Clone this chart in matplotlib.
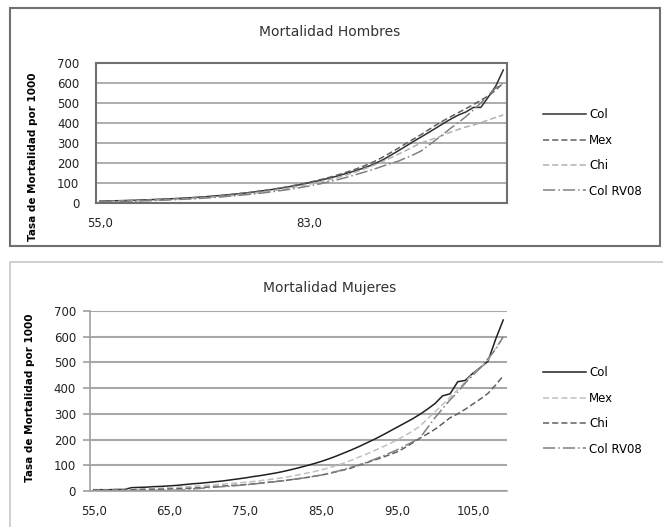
import numpy as np
import matplotlib.pyplot as plt
from matplotlib.patches import Rectangle

# Edades 55..109 (categorias del eje x)
edades = list(range(55, 110))

# Hombres: tasa de mortalidad por 1000
h_col = [9, 10, 11, 12, 13, 14, 15.5, 17, 18.5, 20,
         22, 24, 26, 28.5, 31, 34, 37, 40.5, 44, 48,
         52, 57, 62, 67, 73, 79, 86, 93, 101, 109,
         118, 127, 137, 148, 159, 171, 184, 200, 218, 240,
         262, 285, 308, 330, 352, 375, 398, 420, 440, 455,
         478, 478, 530, 585, 665]
h_mex = [8, 9, 10, 11, 12, 13, 14.5, 16, 17.5, 19,
         21, 23, 25, 27.5, 30, 33, 36, 40, 44, 48,
         52, 57, 62, 68, 74, 80, 88, 95, 103, 112,
         121, 131, 142, 154, 166, 180, 195, 212, 232, 253,
         275, 298, 320, 342, 366, 390, 412, 432, 452, 472,
         492, 514, 535, 565, 600]
h_chi = [7, 7.5, 8, 9, 10, 11, 12, 13.5, 15, 16.5,
         18, 20, 22, 24, 26.5, 29, 32, 35, 38, 42,
         46, 51, 56, 61, 66, 72, 79, 86, 94, 102,
         110, 119, 129, 140, 152, 165, 179, 194, 210, 227,
         245, 263, 282, 300, 313, 325, 340, 355, 368, 380,
         390, 402, 415, 428, 440]
h_rv08 = [6, 6.5, 7, 8, 9, 10, 11, 12, 13.5, 15,
          17, 18.5, 20, 22, 24.5, 27, 30, 33, 36, 39.5,
          43, 47, 51, 56, 61, 66, 72, 78, 85, 92,
          100, 109, 118, 128, 139, 150, 161, 173, 186, 198,
          210, 226, 242, 260, 288, 316, 345, 375, 402, 432,
          465, 500, 540, 575, 600]

# Mujeres: tasa de mortalidad por 1000
m_col = [5, 5, 5, 6, 6, 13, 14, 15, 17, 18,
         20, 22, 25, 28, 30, 33, 36, 39, 43, 47,
         51, 56, 60, 65, 70, 76, 83, 90, 98, 106,
         115, 125, 136, 148, 160, 173, 187, 201, 216, 232,
         248, 264, 280, 298, 318, 340, 370, 378, 425, 430,
         458, 480, 505, 590, 665]
m_mex = [3, 3.5, 4, 5, 6, 7, 8, 9, 10, 11.5,
         13, 14.5, 16, 18, 20, 22, 24, 26.5, 29, 31.5,
         34, 37, 40.5, 44, 48, 52, 57, 63, 69, 75,
         82, 90, 99, 109, 120, 132, 144, 157, 170, 184,
         198, 215, 232, 252, 280, 308, 336, 365, 395, 425,
         455, 480, 510, 555, 600]
m_chi = [3, 3, 3.5, 4, 4.5, 5, 5.5, 6, 6.5, 7,
         8, 9, 10, 11.5, 13, 15, 17, 19, 21, 23,
         25, 28, 31, 34, 37, 40, 44, 48, 52, 57,
         62, 68, 75, 82, 90, 100, 110, 120, 130, 141,
         152, 168, 186, 205, 222, 240, 262, 285, 300, 318,
         338, 358, 380, 412, 448]
m_rv08 = [2, 2, 2, 2, 2, 2, 2.5, 2.5, 2.5, 3,
          3, 3, 4, 8, 10, 13, 15, 17, 19, 21.5,
          24, 27, 30, 33, 36.5, 40, 44, 48, 52, 57,
          62, 69, 76, 84, 93, 102, 112, 123, 135, 147,
          160, 175, 190, 206, 245, 285, 320, 355, 385, 420,
          450, 480, 515, 550, 600]

series = ['Col', 'Mex', 'Chi', 'Col RV08']
fig = plt.figure(figsize=(6.63, 5.27), dpi=100)
W, H = 663, 527


def px_ax(x0, y0, x1, y1):
    return fig.add_axes([x0 / W, 1 - y1 / H, (x1 - x0) / W, (y1 - y0) / H])


def fmt(v):
    return '{:.1f}'.format(v).replace('.', ',')


# marcos exteriores
fig.patches.append(Rectangle((10 / W, 1 - 246 / H), 650 / W, 238 / H, transform=fig.transFigure,
                             fill=False, edgecolor='#707070', linewidth=1.5))
fig.patches.append(Rectangle((10 / W, -0.05), 660 / W, 0.05 + 1 - 262 / H, transform=fig.transFigure,
                             fill=False, edgecolor='#c8c8c8', linewidth=1.2))

tick_font = dict(fontsize=8.5, color='#222222')
label_font = dict(fontsize=7.5, fontweight='bold')
x = np.arange(len(edades))

# ---- Hombres ----
ax1 = px_ax(96, 63, 507, 203)
styles1 = [dict(color='#303030', ls='-', lw=1.1),
           dict(color='#606060', ls=(0, (4, 2)), lw=1.1),
           dict(color='#b0b0b0', ls=(0, (4, 2)), lw=1.1),
           dict(color='#808080', ls=(0, (8, 2, 1, 2)), lw=1.1)]
for name, vals, st in zip(series, [h_col, h_mex, h_chi, h_rv08], styles1):
    ax1.plot(x, vals, label=name, **st)
ax1.set_xlim(-0.5, len(edades) - 0.5)
ax1.set_ylim(0, 700)
ax1.set_yticks(range(0, 701, 100))
ax1.set_xticks(x[::28])
ax1.set_xticklabels([fmt(edades[i]) for i in x[::28]], **tick_font)
ax1.set_yticklabels([str(v) for v in range(0, 701, 100)], **tick_font)
ax1.tick_params(length=0, pad=12)
ax1.tick_params(axis='x', pad=10)
ax1.grid(axis='y', color='#a0a0a0', lw=1.2)
ax1.set_axisbelow(True)
for s in ax1.spines.values():
    s.set_color('#707070')
    s.set_linewidth(1.5)
fig.text(330 / W, 1 - 32 / H, 'Mortalidad Hombres', ha='center', va='center', fontsize=10, color='#333333')
fig.text(33 / W, 1 - 157 / H, 'Tasa de Mortalidad por 1000', rotation=90, ha='center', va='center', **label_font)
fig.legend(*ax1.get_legend_handles_labels(), loc='center left', bbox_to_anchor=(543 / W, 1 - 153 / H),
           frameon=False, fontsize=8.5, handlelength=3.6, handletextpad=0.3, labelspacing=1.05,
           borderpad=0, borderaxespad=0)

# ---- Mujeres ----
ax2 = px_ax(90, 311, 507, 491)
styles2 = [dict(color='#202020', ls='-', lw=1.1),
           dict(color='#c0c0c0', ls=(0, (4, 2)), lw=1.1),
           dict(color='#606060', ls=(0, (4, 2)), lw=1.1),
           dict(color='#808080', ls=(0, (8, 2, 1, 2)), lw=1.1)]
for name, vals, st in zip(series, [m_col, m_mex, m_chi, m_rv08], styles2):
    ax2.plot(x, vals, label=name, **st)
ax2.set_xlim(-0.5, len(edades) - 0.5)
ax2.set_ylim(0, 700)
ax2.set_yticks(range(0, 701, 100))
ax2.set_xticks(x[::10])
ax2.set_xticklabels([fmt(edades[i]) for i in x[::10]], **tick_font)
ax2.set_yticklabels([str(v) for v in range(0, 701, 100)], **tick_font)
ax2.tick_params(axis='y', length=5, width=1.2, color='#a0a0a0', pad=5)
ax2.tick_params(axis='x', length=0, pad=10)
ax2.grid(axis='y', color='#a8a8a8', lw=1.5)
ax2.set_axisbelow(True)
for k in ['top', 'right']:
    ax2.spines[k].set_visible(False)
for k in ['left', 'bottom']:
    ax2.spines[k].set_color('#a0a0a0')
    ax2.spines[k].set_linewidth(1.2)
fig.text(330 / W, 1 - 288 / H, 'Mortalidad Mujeres', ha='center', va='center', fontsize=10, color='#333333')
fig.text(30 / W, 1 - 398 / H, 'Tasa de Mortalidad por 1000', rotation=90, ha='center', va='center', **label_font)
fig.legend(*ax2.get_legend_handles_labels(), loc='center left', bbox_to_anchor=(543 / W, 1 - 411 / H),
           frameon=False, fontsize=8.5, handlelength=3.6, handletextpad=0.3, labelspacing=1.05,
           borderpad=0, borderaxespad=0)

fig.savefig('out.png', dpi=100)
